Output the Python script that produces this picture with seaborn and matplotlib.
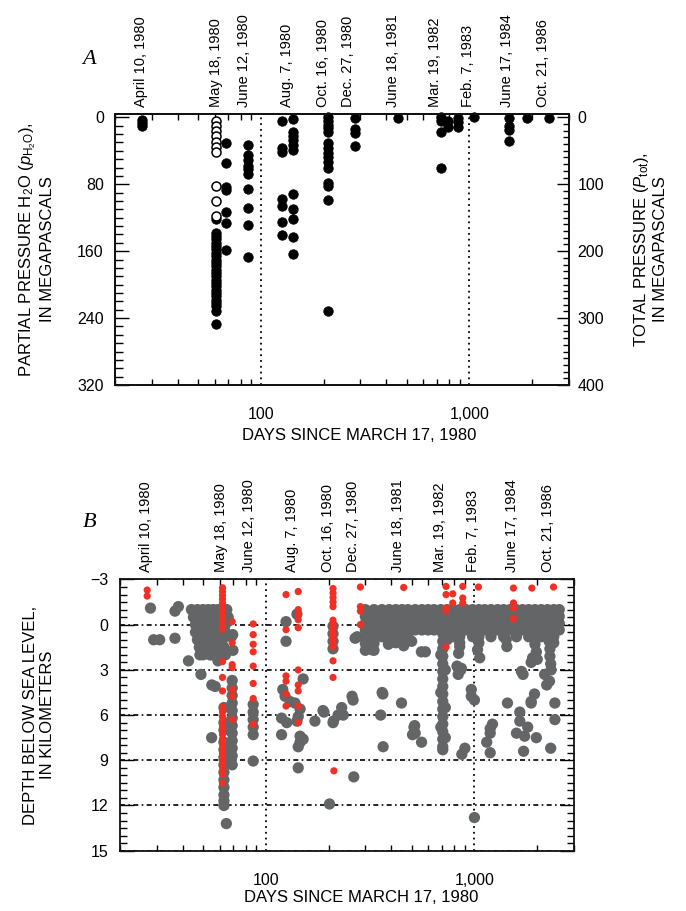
import matplotlib
matplotlib.use("Agg")
import matplotlib.pyplot as plt
import matplotlib.transforms as mtrans
from matplotlib import font_manager as fm
from matplotlib.ticker import FixedLocator, MultipleLocator, NullFormatter, LogLocator
import pandas as pd
import seaborn as sns

sns.set_style("ticks")
names = {f.name for f in fm.fontManager.ttflist}
NARROW = "Liberation Sans Narrow" if "Liberation Sans Narrow" in names else "Liberation Sans"
plt.rcParams["font.family"] = [NARROW, "Liberation Sans", "DejaVu Sans"]
plt.rcParams["mathtext.fontset"] = "custom"
plt.rcParams["mathtext.rm"] = NARROW
plt.rcParams["mathtext.it"] = NARROW + ":italic"
for key in ["text.color", "axes.labelcolor", "xtick.color", "ytick.color"]:
    plt.rcParams[key] = "black"
IS_NARROW = NARROW == "Liberation Sans Narrow"

# ---------------- data ----------------
date_labels = ["April 10, 1980", "May 18, 1980", "June 12, 1980", "Aug. 7, 1980",
               "Oct. 16, 1980", "Dec. 27, 1980", "June 18, 1981", "Mar. 19, 1982",
               "Feb. 7, 1983", "June 17, 1984", "Oct. 21, 1986"]
date_days = [26.7, 61.2, 83, 133, 199, 262, 431, 687, 989, 1517, 2251]

# Panel A: partial pressure H2O (MPa) vs days
a_open = [(61, p) for p in [4, 10, 16, 22, 29, 35, 41, 82, 100, 118]]
a_filled_1980 = (
    [(27, p) for p in [3, 7, 10]]
    + [(61, p) for p in [122, 138, 142, 146, 150, 154, 158, 162, 166, 170, 174, 178, 182, 186,
                         190, 194, 198, 202, 206, 210, 214, 218, 222, 226, 232, 247]]
    + [(68, p) for p in [31, 55, 83, 87, 113, 126, 159]]
    + [(87, p) for p in [33, 45, 51, 58, 62, 68, 86, 109, 129, 167]]
    + [(126, p) for p in [5, 37, 41, 98, 106, 125, 141]]
    + [(142, p) for p in [2, 17, 22, 27, 33, 39, 92, 110, 121, 143, 164]]
    + [(211, p) for p in [0, 4, 9, 13, 17, 31, 37, 43, 48, 54, 60, 78, 82, 99, 231]]
    + [(283, p) for p in [1, 14, 19, 34]]
)
a_filled_later = (
    [(456, 1)]
    + [(731, p) for p in [0, 4, 17, 61]]
    + [(787, p) for p in [5, 11]]
    + [(880, p) for p in [1, 6, 11]]
    + [(1054, 0)]
    + [(1556, p) for p in [1, 10, 15, 28]]
    + [(1888, 1), (2400, 1)]
)

# Panel B: depth (km) vs days -- seismicity (grey) and samples (red)
grey_early = [(28, -1.1), (29, 1.0), (31, 1.0), (36.7, -0.9), (38.1, -1.2), (36.7, 0.9),
              (42.6, 2.4), (48.9, 3.3), (55.1, 4.0), (57.2, 4.1), (48.3, 2.0), (54, 2.0), (55, 7.5)]
grey_may_blob = (
    [(d, -1.0) for d in [44, 47, 50, 53, 56, 59, 62, 65]]
    + [(d, -0.5) for d in [45, 48, 51, 54, 57, 60, 63, 66]]
    + [(d, 0.0) for d in [46, 49, 52, 55, 58, 61, 64]]
    + [(d, 0.5) for d in [46, 49, 52, 55, 58, 61, 64]]
    + [(d, 1.0) for d in [47, 50, 53, 56, 59, 62]]
    + [(d, 1.5) for d in [48, 51, 54, 57, 60, 63]]
    + [(d, 2.0) for d in [50, 55, 60, 64]]
    + [(59, 2.4), (68.4, 0.8), (69.6, 1.7), (69.4, 0.66)]
)
grey_may_deep = (
    [(63, z) for z in [5.5, 6.5, 7.0, 7.8, 8.3, 8.8, 9.3, 9.8, 10.3, 10.8, 11.3, 11.7, 12.0]]
    + [(64.7, 13.2)]
    + [(69, z) for z in [3.7, 4.2, 4.7, 5.2, 5.7, 6.2, 6.7, 7.2, 7.7, 8.2, 8.7, 9.3]]
    + [(87, z) for z in [5.3, 5.8, 6.3, 6.8, 7.3, 9.05]]
)
grey_1980_late = [(125, -0.2), (125, 1.1), (141, -0.7), (120.6, 4.3), (123.7, 4.75), (130.7, 5.1),
                  (138, 5.2), (146, 5.6), (151, 3.6), (143, 6.1), (141, 6.4), (119, 6.2), (126, 6.5),
                  (119, 7.3), (146, 7.4), (146, 7.8), (143, 8.1), (151, 7.6), (143, 9.5), (172, 6.4),
                  (188, 5.7), (190, 5.8), (210, 6.5), (222, 6.0), (235, 6.0), (231, 5.5), (211, 6.4),
                  (202, 11.9), (264, 10.1), (262, 5.0), (259, 4.75),
                  (210, 0.1), (210, 0.6), (210, 1.1), (210, 1.6)]
grey_scatter_late = [(355, 6.0), (365, 8.1), (447, 5.2), (513, 6.8), (505, 7.3), (558, 7.8), (361, 4.5),
                     (517, 6.7), (364, 4.6), (520, 7.2), (317, 1.4), (274, 0.8), (268, 0.9),
                     (322, 1.66), (387, 1.0), (387, 1.3), (458, 1.4), (557, 1.8), (582, 1.8), (500, 1.1),
                     (825, 2.75), (836, 3.3), (866, 2.9), (860, 3.0), (850, 1.45), (840, 1.9),
                     (966, 4.3), (966, 4.75), (1035, 1.66), (1060, 2.2), (900, 8.2), (870, 8.6),
                     (1190, 6.9), (1145, 7.8), (1190, 8.5), (1190, 7.2), (1220, 6.6),
                     (1440, 5.2), (1680, 3.1), (1710, 3.3), (1870, 2.5), (1900, 2.2), (1940, 4.6),
                     (1870, 5.1), (2170, 3.3), (2290, 3.75), (2220, 4.0), (2430, 5.2), (2430, 6.3),
                     (2320, 8.2), (1000, 12.8), (1000, 5.0), (1650, 5.8), (1650, 6.4), (1590, 7.2),
                     (1740, 7.4), (1800, 6.8), (1980, 7.5), (1720, 8.4), (1870, 5.2),
                     (2280, 0.6), (2280, 1.1), (2300, 1.6), (2300, 2.1), (2320, 2.6), (2330, 3.0),
                     (1950, 0.8), (1950, 1.3), (1980, 1.8), (2000, 2.3),
                     (1400, 0.5), (1420, 1.0), (1430, 1.45)]
grey_deep_1982 = [(705, z) for z in [0.6, 1.1, 1.6, 2.1, 2.6, 3.1, 3.6, 4.1, 4.6, 5.1, 5.6, 6.1,
                                     6.6, 7.1, 7.6, 8.1, 8.3]] + \
                 [(690, 2.0), (725, 3.0), (690, 4.5), (725, 5.5), (690, 6.8), (725, 7.5), (740, 1.0)]
band_cols = [
    (300, [-1.0, -0.55, -0.1, 0.35, 0.8, 1.25, 1.7]), (330, [-1.0, -0.55, -0.1, 0.35, 0.8, 1.25, 1.7]),
    (360, [-1.0, -0.55, -0.1, 0.35, 0.8]), (390, [-1.0, -0.55, -0.1, 0.35, 0.8, 1.2]),
    (420, [-1.0, -0.55, -0.1, 0.35, 0.8, 1.2]), (450, [-1.0, -0.55, -0.1, 0.35, 0.8, 1.2]),
    (480, [-1.0, -0.55, -0.1, 0.35, 0.8]), (520, [-1.0, -0.55, -0.1, 0.35]),
    (560, [-1.0, -0.55, -0.1, 0.35]), (600, [-1.0, -0.55, -0.1, 0.35]),
    (640, [-1.0, -0.55, -0.1, 0.35]), (690, [-1.0, -0.55, -0.1, 0.35]),
    (740, [-1.0, -0.55, -0.1, 0.35, 0.8]), (790, [-1.0, -0.55, -0.1, 0.35, 0.8]),
    (850, [-1.0, -0.55, -0.1, 0.35, 0.8, 1.2]), (910, [-1.0, -0.55, -0.1, 0.35]),
    (980, [-1.0, -0.55, -0.1, 0.35, 0.8]), (1050, [-1.0, -0.55, -0.1, 0.35, 0.8, 1.2]),
    (1120, [-1.0, -0.55, -0.1, 0.35]), (1200, [-1.0, -0.55, -0.1, 0.35, 0.8]),
    (1290, [-1.0, -0.55, -0.1, 0.35]), (1380, [-1.0, -0.55, -0.1, 0.35, 0.8]),
    (1480, [-1.0, -0.55, -0.1, 0.35]), (1590, [-1.0, -0.55, -0.1, 0.35, 0.8]),
    (1700, [-1.0, -0.55, -0.1, 0.35]), (1820, [-1.0, -0.55, -0.1, 0.35, 0.8]),
    (1950, [-1.0, -0.55, -0.1, 0.35]), (2090, [-1.0, -0.55, -0.1, 0.35, 0.8]),
    (2240, [-1.0, -0.55, -0.1, 0.35, 0.8]), (2400, [-1.0, -0.55, -0.1, 0.35, 0.8, 1.2]),
    (2550, [-1.0, -0.55, -0.1, 0.35]),
]
red_1980 = (
    [(27, -2.3), (27, -1.9)]
    + [(62, z) for z in [-2.45, -2.2, -1.95, -1.7, -1.45, -1.2, -0.95, -0.7, -0.45, -0.2, 0.05, 0.3,
                         2.45, 3.5, 4.4, 5.5, 5.8, 6.1, 6.4, 6.7, 7.0, 7.3, 7.6, 7.9, 8.2, 8.5, 8.8,
                         9.1, 9.4, 9.7, 9.9, 10.5]]
    + [(69, z) for z in [-0.2, 1.2, 2.65, 2.85, 4.3, 4.75, 6.3]]
    + [(87, z) for z in [-0.05, 0.66, 1.3, 1.8, 2.75, 3.9, 4.9, 6.6]]
    + [(125, z) for z in [-2.0, 0.33, 3.4, 3.75, 4.6, 5.4]]
    + [(143, z) for z in [-2.2, -1.0, -0.66, -0.33, 0.2, 3.0, 4.0, 4.4, 5.4, 6.5]]
    + [(210, z) for z in [-2.4, -2.1, -1.8, -1.5, -1.2, -0.3, 0.0, 0.3, 0.6, 0.9, 1.2, 1.45, 2.4, 3.5]]
    + [(212, 9.7)]
    + [(284, z) for z in [-2.5, -1.2, -0.9, 0.0]]
)
red_later = [(458, -2.47), (731, -2.54), (731, -2.0), (787, -2.05), (787, -1.44), (879, -2.54),
             (879, -1.77), (879, -1.44), (731, -1.1), (731, -0.93), (731, 1.48), (1045, -2.5),
             (1538, -2.43), (1538, -1.44), (1538, -1.1), (1538, -0.38), (1884, -2.43), (2393, -2.5)]

# ---------------- frames ----------------
dfA_open = pd.DataFrame(a_open, columns=["day", "p"])
dfA_fill = pd.DataFrame(a_filled_1980 + a_filled_later, columns=["day", "p"])
band_rows = [(d, z) for d, zs in band_cols for z in zs]
dfB_grey = pd.DataFrame(grey_early + grey_may_blob + grey_may_deep + grey_1980_late
                        + band_rows + grey_scatter_late + grey_deep_1982, columns=["day", "depth"])
dfB_red = pd.DataFrame(red_1980 + red_later, columns=["day", "depth"])

GREY = "#646567"
RED = "#EE3124"
TICK_FS = 12.5 if IS_NARROW else 11.5
LAB_FS = 14 if IS_NARROW else 12
DATE_FS = 12.5 if IS_NARROW else 10.5

fig = plt.figure(figsize=(6.86, 9.11), dpi=100)
axA = fig.add_axes([0.1676, 0.5774, 0.6618, 0.2975])
axB = fig.add_axes([0.1749, 0.0662, 0.6618, 0.2977])


def style_x(ax):
    ax.set_xscale("log")
    ax.set_xlim(20, 3000)
    ax.xaxis.set_major_locator(FixedLocator([100, 1000]))
    ax.set_xticklabels(["100", "1,000"])
    ax.xaxis.set_minor_locator(LogLocator(base=10, subs=range(2, 10), numticks=20))
    ax.xaxis.set_minor_formatter(NullFormatter())
    ax.tick_params(axis="x", which="major", direction="in", length=0, pad=16,
                   labelsize=TICK_FS, top=True, bottom=True)
    ax.tick_params(axis="x", which="minor", direction="in", length=4.5, width=1,
                   top=True, bottom=True)
    for s in ax.spines.values():
        s.set_color("#111111")
        s.set_linewidth(1.3)
    ax.xaxis.grid(True, which="major", color="k", lw=1.3, ls=(0, (1, 2.2)))
    ax.set_axisbelow(True)
    trans = mtrans.offset_copy(mtrans.blended_transform_factory(ax.transData, ax.transAxes),
                               fig=fig, y=7, units="dots")
    for d, lab in zip(date_days, date_labels):
        ax.text(d, 1.0, lab, transform=trans, rotation=90, ha="center", va="bottom",
                fontsize=DATE_FS)


# ---------------- Panel A ----------------
sns.scatterplot(data=dfA_fill, x="day", y="p", ax=axA, color="k", edgecolor="k",
                s=46, linewidth=0.6, legend=False, zorder=3, clip_on=False)
sns.scatterplot(data=dfA_open, x="day", y="p", ax=axA, color="white", edgecolor="k",
                s=42, linewidth=1.1, legend=False, zorder=4, clip_on=False)
style_x(axA)
axA.set_ylim(320, -4)
axA.yaxis.set_major_locator(FixedLocator([0, 80, 160, 240, 320]))
axA.yaxis.set_minor_locator(MultipleLocator(10))
axA.tick_params(axis="y", which="major", direction="in", length=10, width=1, pad=8,
                labelsize=TICK_FS, left=True, right=False)
axA.tick_params(axis="y", which="minor", direction="in", length=6, width=1, left=True, right=False)
axA.set_xlabel("")
axA.set_ylabel("")

axR = axA.twinx()
axR.set_ylim(400, -5)
axR.yaxis.set_major_locator(MultipleLocator(100))
axR.yaxis.set_minor_locator(MultipleLocator(10))
axR.tick_params(axis="y", which="major", direction="in", length=9, width=1, pad=6, labelsize=TICK_FS)
axR.tick_params(axis="y", which="minor", direction="in", length=4.5, width=1)
for s in axR.spines.values():
    s.set_color("#111111")
    s.set_linewidth(1.3)

axA.text(-0.174, 0.5, "PARTIAL PRESSURE H$_2$O ($p_{\\mathrm{H_2O}}$),\nIN MEGAPASCALS",
         transform=axA.transAxes, rotation=90, ha="center", va="center", fontsize=LAB_FS,
         multialignment="center")
axA.text(1.178, 0.5, "TOTAL PRESSURE ($P_{\\mathrm{tot}}$),\nIN MEGAPASCALS",
         transform=axA.transAxes, rotation=90, ha="center", va="center", fontsize=LAB_FS,
         multialignment="center")
axA.text(0.537, -0.188, "DAYS SINCE MARCH 17, 1980", transform=axA.transAxes,
         ha="center", va="center", fontsize=LAB_FS)
axA.text(-0.057, 1.20, "A", transform=axA.transAxes, ha="center", va="center",
         fontsize=16, family="Liberation Serif", style="italic")

# ---------------- Panel B ----------------
sns.scatterplot(data=dfB_grey, x="day", y="depth", ax=axB, color=GREY, edgecolor="none",
                s=66, linewidth=0, legend=False, zorder=2)
sns.scatterplot(data=dfB_red, x="day", y="depth", ax=axB, color=RED, edgecolor="none",
                s=27, linewidth=0, legend=False, zorder=3)
style_x(axB)
axB.set_ylim(15, -3)
axB.yaxis.set_major_locator(MultipleLocator(3))
axB.yaxis.set_minor_locator(MultipleLocator(0.5))
axB.tick_params(axis="y", which="major", direction="in", length=10, width=1, pad=8.5,
                labelsize=TICK_FS, left=True, right=True)
axB.tick_params(axis="y", which="minor", direction="in", length=5, width=1, left=True, right=True)
axB.yaxis.grid(True, which="major", color="k", lw=1.2, ls=(0, (3, 2, 1, 2)))
axB.set_xlabel("")
axB.set_ylabel("")
axB.text(-0.178, 0.5, "DEPTH BELOW SEA LEVEL,\nIN KILOMETERS", transform=axB.transAxes,
         rotation=90, ha="center", va="center", fontsize=LAB_FS, multialignment="center")
axB.text(0.532, -0.171, "DAYS SINCE MARCH 17, 1980", transform=axB.transAxes,
         ha="center", va="center", fontsize=LAB_FS)
axB.text(-0.068, 1.21, "B", transform=axB.transAxes, ha="center", va="center",
         fontsize=16, family="Liberation Serif", style="italic")

fig.savefig("out.png", dpi=100)
